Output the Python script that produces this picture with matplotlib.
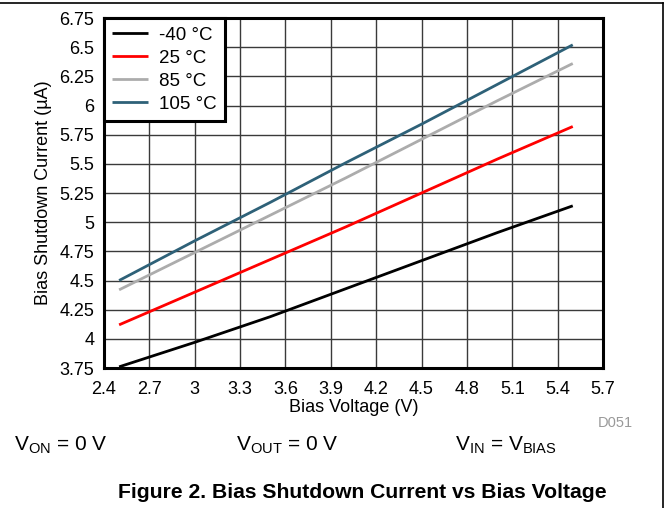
import numpy as np
import matplotlib.pyplot as plt
from matplotlib.lines import Line2D

plt.rcParams['font.family'] = ['Liberation Sans', 'DejaVu Sans']
plt.rcParams['mathtext.fontset'] = 'custom'
plt.rcParams['mathtext.rm'] = 'Liberation Sans'

bias_v = [2.5, 3.0, 3.5, 4.0, 4.5, 5.0, 5.5]
i_m40 = [3.76, 3.97, 4.19, 4.43, 4.67, 4.91, 5.14]
i_25 = [4.12, 4.40, 4.68, 4.96, 5.25, 5.54, 5.82]
i_85 = [4.42, 4.74, 5.06, 5.38, 5.71, 6.04, 6.36]
i_105 = [4.50, 4.84, 5.17, 5.51, 5.84, 6.18, 6.52]

labels = ['-40 °C', '25 °C', '85 °C', '105 °C']
colors = ['#000000', '#ff0000', '#acacac', '#2e6178']

fig = plt.figure(figsize=(6.69, 5.08), dpi=100)
ax = fig.add_axes([104 / 669, 1 - 368 / 508, 499 / 669, 350 / 508])

for y, lab, c in zip([i_m40, i_25, i_85, i_105], labels, colors):
    ax.plot(bias_v, y, color=c, lw=2, label=lab, solid_capstyle='butt')

ax.set_xlim(2.4, 5.7)
ax.set_ylim(3.75, 6.75)
ax.set_xticks(np.arange(2.4, 5.71, 0.3))
ax.set_xticklabels(['2.4', '2.7', '3', '3.3', '3.6', '3.9', '4.2', '4.5', '4.8', '5.1', '5.4', '5.7'])
ax.set_yticks(np.arange(3.75, 6.76, 0.25))
ax.set_yticklabels(['3.75', '4', '4.25', '4.5', '4.75', '5', '5.25', '5.5', '5.75', '6', '6.25', '6.5', '6.75'])
ax.tick_params(length=0, labelsize=13)
ax.tick_params(axis='x', pad=9)
ax.tick_params(axis='y', pad=7)
ax.grid(True, color='#3a3a3a', lw=1)
for s in ax.spines.values():
    s.set_linewidth(2.2)
ax.set_axisbelow(True)

ax.set_xlabel('Bias Voltage (V)', fontsize=13, labelpad=1)
ax.set_ylabel('Bias Shutdown Current (µA)', fontsize=13, labelpad=5)

leg = ax.legend(loc='upper left', fontsize=13.5, frameon=True, fancybox=False,
                borderaxespad=0, handlelength=1.9, handletextpad=0.6,
                labelspacing=0.32, borderpad=0.45)
leg.get_frame().set_edgecolor('black')
leg.get_frame().set_linewidth(2.2)
leg.get_frame().set_alpha(1)

fig.text(615 / 669, 1 - 423 / 508, 'D051', fontsize=10.5, color='#999999', ha='center', va='center')
fig.text(14 / 669, 1 - 445 / 508, r'$\mathregular{V_{ON}}$ = 0 V', fontsize=15, va='center')
fig.text(236 / 669, 1 - 445 / 508, r'$\mathregular{V_{OUT}}$ = 0 V', fontsize=15, va='center')
fig.text(455 / 669, 1 - 445 / 508, r'$\mathregular{V_{IN}}$ = $\mathregular{V_{BIAS}}$', fontsize=15, va='center')
fig.text(362 / 669, 1 - 493 / 508, 'Figure 2. Bias Shutdown Current vs Bias Voltage',
         fontsize=15.2, fontweight='bold', ha='center', va='center')

fig.add_artist(Line2D([0, 663 / 669], [1 - 3 / 508, 1 - 3 / 508], color='black', lw=1.2))
fig.add_artist(Line2D([663 / 669, 663 / 669], [1 - 3 / 508, 0], color='black', lw=1.2))

fig.savefig('out.png', dpi=100)
